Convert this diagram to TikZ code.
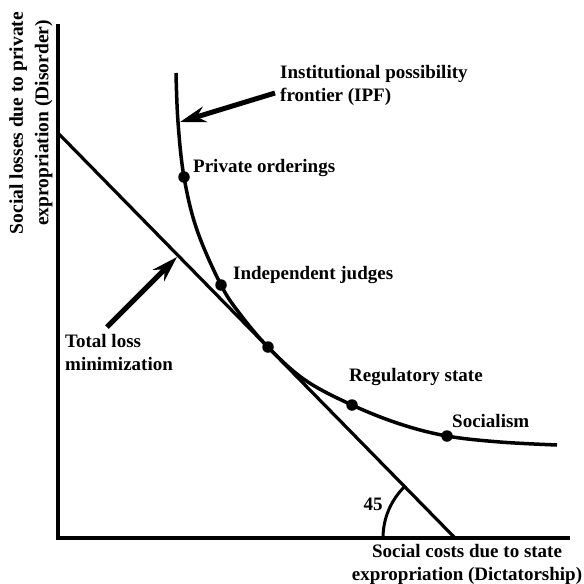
\documentclass[tikz,border=0pt]{standalone}
\usepackage{fontspec}
\setmainfont{Liberation Serif}
\usetikzlibrary{arrows.meta,calc}
\begin{document}
\begin{tikzpicture}[x=1pt,y=-1pt,
  lbl/.style={font=\fontsize{19}{23}\selectfont\bfseries, inner sep=0pt, anchor=west},
  axis/.style={line width=4pt},
  dotnode/.style={circle, fill=black, inner sep=0pt, minimum size=11.5pt},
  bigarrow/.style={line width=5pt, -{Stealth[length=26pt,width=16pt]}}]
\useasboundingbox (0,0) rectangle (584,584);
% axes
\coordinate (O) at (58,538);
\coordinate (ytop) at (58,26);
\coordinate (xend) at (568,538);
\draw[axis, line cap=rect] (ytop) -- (O) -- (xend);
% total loss line
\coordinate (lstart) at (58,133);
\coordinate (lend) at (455,538);
\draw[line width=3.2pt] (lstart) -- (lend);
% angle arc
\draw[line width=3pt] ($(lend)+(-72,0)$) arc[start angle=180, end angle=225.5, radius=72];
\node[lbl, anchor=center] (a45) at (373,504) {45};
% IPF curve
\coordinate (p1) at (184,177);
\coordinate (p2) at (221,285);
\coordinate (p3) at (268,347);
\coordinate (p4) at (352,405);
\coordinate (p5) at (447,436);
\draw[line width=3.5pt] plot[smooth, tension=0.6] coordinates {(176,73) (178,122) (p1) (197,230) (p2) (240,314) (p3) (305,380) (p4) (400,424) (p5) (500,442) (557,445)};
\node[dotnode] (d1) at (p1) {};
\node[dotnode] (d2) at (p2) {};
\node[dotnode] (d3) at (p3) {};
\node[dotnode] (d4) at (p4) {};
\node[dotnode] (d5) at (p5) {};
% labels
\node[lbl] (t1) at (193,168) {Private orderings};
\node[lbl] (t2) at (233,275) {Independent judges};
\node[lbl] (t4) at (349,377) {Regulatory state};
\node[lbl] (t5) at (452,421) {Socialism};
\node[lbl, align=left, anchor=north west] (ipf) at (280,65) {Institutional possibility\\frontier (IPF)};
\node[lbl, align=left, anchor=north west] (tlm) at (65,334) {Total loss\\minimization};
\node[lbl, align=center, anchor=north] (xl) at (467,544) {Social costs due to state\\expropriation (Dictatorship)};
\node[lbl, font=\fontsize{19.5}{25.5}\selectfont\bfseries, align=center, anchor=center, rotate=90] (yl) at (31,123) {Social losses due to private\\expropriation (Disorder)};
% arrows
\coordinate (ipftail) at (275,93);
\coordinate (ipftip) at (180,122);
\draw[bigarrow] (ipftail) -- (ipftip);
\coordinate (tltail) at (107,327);
\coordinate (tltip) at (177,257);
\draw[bigarrow] (tltail) -- (tltip);
\end{tikzpicture}
\end{document}
